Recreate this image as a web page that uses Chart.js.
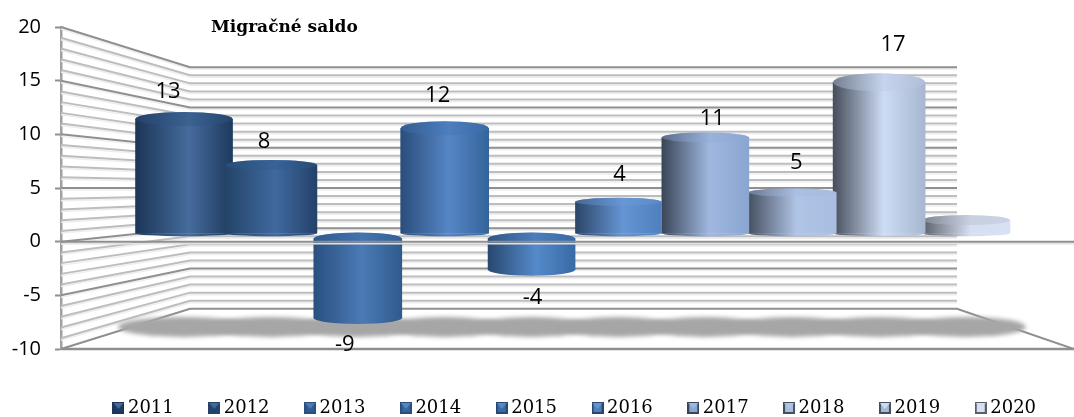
<!DOCTYPE html>
<html>
<head>
<meta charset="utf-8">
<style>html,body{margin:0;padding:0;background:#fff}#w{width:1074px;height:417px;position:relative}</style>
<script src="https://cdn.jsdelivr.net/npm/chart.js@4"></script>
</head>
<body>
<div id="w"><canvas id="c" width="1074" height="417"></canvas></div>
<script>
const years = [2011, 2012, 2013, 2014, 2015, 2016, 2017, 2018, 2019, 2020];
const values = [13, 8, -9, 12, -4, 4, 11, 5, 17, 2];
const shownLabels = ['13', '8', '-9', '12', '-4', '4', '11', '5', '17', ''];
const chartTitle = 'Migračné saldo';
const yTickStep = 5;

// styling
const edgeL = ['#1c3557','#234468','#2a5080','#2a4e7c','#28486f','#2c4668','#3a4658','#454f5f','#474e5c','#5b5f68'];
const midC  = ['#456c9c','#40699f','#4b7ab5','#5686c5','#558acb','#6595d4','#a0b8e0','#b0c4e6','#cddcf5','#d5dff2'];
const edgeR = ['#1e3a5e','#23426a','#2f5a8c','#35649b','#386aa4','#4f80bd','#8aa5d0','#a8bde0','#a8b7d0','#d8e0f2'];
const capC  = ['#2f5484','#2f5a8e','#3a6aa4','#4274b4','#3f6ba6','#6f9ad6','#8fa9d8','#a3b8de','#bccbe2','#b4bccb'];
const barW  = [97, 92, 88, 88, 87, 86, 87, 88, 92, 88];
const capRy = [7, 5, 6, 7, 6, 4, 5, 4, 9, 5];
const drawOrder = [9, 7, 5, 3, 1, 0, 2, 4, 6, 8];
const labelDx = [-16, -7, -13, -7, 1, 1, 7, 4, 14, 0];
const labelDy = [-27.5, -23, 27, -32.6, 28, -27, -19, -30, -38, 0];
const FONT_NUM = '"Open Sans", sans-serif';
const wallL = 190, wallR = 957;

function grad(chart, i) {
  const xs = chart.scales.x;
  const ctx = chart.ctx;
  const cx = xs.getPixelForValue(years[i]);
  const g = ctx.createLinearGradient(cx - barW[i] / 2, 0, cx + barW[i] / 2, 0);
  g.addColorStop(0, edgeL[i]);
  g.addColorStop(0.55, midC[i]);
  g.addColorStop(1, edgeR[i]);
  return g;
}

function swatch(i) {
  const c = document.createElement('canvas');
  c.width = 12; c.height = 12;
  const x = c.getContext('2d');
  x.fillStyle = edgeL[i]; x.fillRect(0, 0, 12, 12);
  x.fillStyle = edgeR[i]; x.fillRect(2, 2, 8, 8);
  x.fillStyle = midC[i];
  x.beginPath(); x.moveTo(1, 1); x.lineTo(11, 1); x.lineTo(6, 7); x.closePath(); x.fill();
  return c;
}
const swatches = years.map((_, i) => swatch(i));

function line(ctx, pts, color, w) {
  ctx.beginPath();
  ctx.moveTo(pts[0], pts[1]);
  for (let k = 2; k < pts.length; k += 2) ctx.lineTo(pts[k], pts[k + 1]);
  ctx.strokeStyle = color; ctx.lineWidth = w; ctx.stroke();
}

const scene = {
  id: 'scene',
  afterLayout(chart) {
    chart.legend.top += 10; chart.legend.bottom += 10;
    chart.legend.left += 40; chart.legend.right += 40;
    chart.titleBlock.top += 14.5; chart.titleBlock.bottom += 14.5;
    chart.titleBlock.left += 211; chart.titleBlock.right += 211;
  },
  beforeDatasetsDraw(chart) {
    const {ctx, chartArea: a} = chart;
    const front = chart.scales.y, back = chart.scales.yBack;
    ctx.save();
    for (let v = front.min; v <= front.max; v++) {
      const major = v % yTickStep === 0;
      const yf = front.getPixelForValue(v), yb = back.getPixelForValue(v);
      if (v === front.min) continue;
      line(ctx, [a.left, yf + 2, wallL, yb + 2, wallR, yb + 2], '#eeeeee', 1.5);
      line(ctx, [a.left, yf, wallL, yb, wallR, yb], major ? '#8f8f8f' : '#bdbdbd', 2);
    }
    // floor
    const bf = front.getPixelForValue(front.min), bb = back.getPixelForValue(front.min);
    line(ctx, [a.left, bf, wallL, bb, wallR, bb, a.right, bf], '#8f8f8f', 2);
    line(ctx, [a.left, bf, a.right, bf], '#8f8f8f', 2.5);
    // floor shadow
    ctx.filter = 'blur(2px)';
    ctx.fillStyle = '#a6a6a6';
    years.forEach((yr, i) => {
      const el = chart.getDatasetMeta(i).data[0];
      ctx.beginPath();
      ctx.ellipse(el.x, (bf + bb) / 2 - 2, barW[i] * 0.68, 10, 0, 0, Math.PI * 2);
      ctx.fill();
    });
    ctx.filter = 'none';
    ctx.restore();
  },
  afterDatasetDraw(chart, args) {
    const i = args.index;
    const el = chart.getDatasetMeta(i).data[0];
    const {ctx} = chart;
    const w = el.width / 2;
    const top = Math.min(el.y, el.base), bot = Math.max(el.y, el.base);
    const ry = capRy[i], rb = values[i] < 0 ? ry : 3;
    ctx.save();
    ctx.fillStyle = grad(chart, i);
    ctx.beginPath(); ctx.ellipse(el.x, bot, w, rb, 0, 0, Math.PI); ctx.fill();
    ctx.beginPath(); ctx.ellipse(el.x, top, w, ry, 0, 0, Math.PI * 2); ctx.fill();
    ctx.globalAlpha = 0.4;
    ctx.fillStyle = capC[i];
    ctx.fill();
    ctx.restore();
  },
  afterDatasetsDraw(chart) {
    const {ctx, chartArea: a} = chart;
    const y0 = chart.scales.y.getPixelForValue(0);
    ctx.save();
    line(ctx, [a.left, y0 + 2, a.right, y0 + 2], '#e2e2e2', 1.5);
    line(ctx, [a.left, y0, a.right, y0], '#8f8f8f', 2);
    ctx.fillStyle = '#000';
    ctx.font = '22px ' + FONT_NUM;
    ctx.textAlign = 'center'; ctx.textBaseline = 'middle';
    years.forEach((yr, i) => {
      if (!shownLabels[i]) return;
      const el = chart.getDatasetMeta(i).data[0];
      ctx.fillText(shownLabels[i], el.x + labelDx[i], el.y + labelDy[i]);
    });
    ctx.restore();
  }
};

new Chart(document.getElementById('c'), {
  type: 'bar',
  plugins: [scene],
  data: {
    datasets: years.map((yr, i) => ({
      label: String(yr),
      data: [{x: yr, y: values[i]}],
      yAxisID: values[i] < 0 ? 'yNeg' : 'yMid',
      base: values[i] < 0 ? -0.77 : 0.57,
      barThickness: barW[i],
      order: drawOrder[i],
      backgroundColor: c => grad(c.chart, i),
      borderWidth: 0
    }))
  },
  options: {
    responsive: false,
    animation: false,
    events: [],
    datasets: {bar: {grouped: false}},
    layout: {padding: 0},
    scales: {
      x: {type: 'linear', display: false, offset: false, min: 2009.584, max: 2021.243, grid: {offset: false}},
      y: {
        min: -10, max: 20, position: 'left',
        afterFit(s) { s.width = 61; },
        ticks: {stepSize: yTickStep, padding: 14, color: '#000', font: {family: FONT_NUM, size: 20}},
        grid: {drawOnChartArea: false, tickLength: 6, tickColor: '#8f8f8f', tickWidth: 2},
        border: {color: '#a0a0a0', width: 2.5}
      },
      yMid: {display: false, min: -12.03, max: 23.02},
      yNeg: {display: false, min: -12.2, max: 21.1},
      yBack: {display: false, min: -15, max: 25}
    },
    plugins: {
      tooltip: {enabled: false},
      title: {
        display: true, text: chartTitle, align: 'start', color: '#000',
        font: {family: '"DejaVu Serif", serif', size: 17, weight: 'bold'},
        padding: {top: 3.3, bottom: 3.3}
      },
      legend: {
        display: true, position: 'bottom', maxHeight: 70,
        labels: {
          usePointStyle: true, boxWidth: 1, boxHeight: 12, padding: 40, color: '#000',
          font: {family: '"DejaVu Serif", serif', size: 18},
          generateLabels: () => years.map((yr, i) => ({text: String(yr), pointStyle: swatches[i], datasetIndex: i, fontColor: '#000', lineWidth: 0}))
        }
      }
    }
  }
});
</script>
</body>
</html>
